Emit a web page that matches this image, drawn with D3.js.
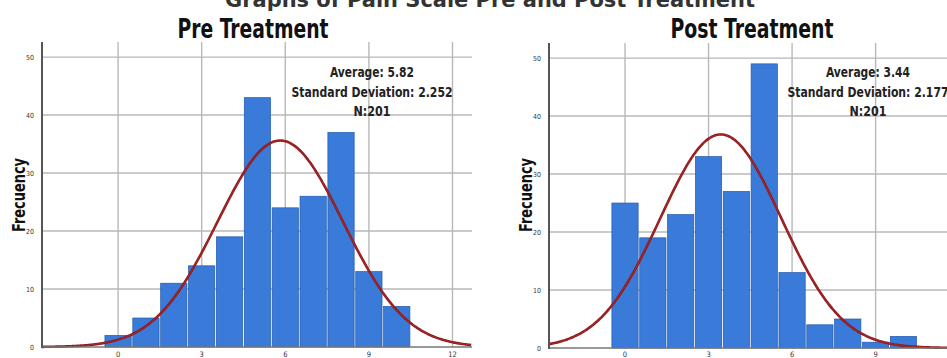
<!DOCTYPE html>
<html>
<head>
<meta charset="utf-8">
<script src="https://cdn.jsdelivr.net/npm/d3@7"></script>
<style>
  html, body { margin: 0; padding: 0; background: #fff; }
  svg { display: block; }
  text { font-family: 'Liberation Sans Narrow', 'Arial Narrow', 'DejaVu Sans Condensed', 'Liberation Sans', sans-serif; }
</style>
</head>
<body>
<svg id="chart" width="947" height="358"></svg>
<script>
// ---- Data ----
const binCenters = [0, 1, 2, 3, 4, 5, 6, 7, 8, 9, 10];
const preCounts  = [2, 5, 11, 14, 19, 43, 24, 26, 37, 13, 7];
const postCounts = [25, 19, 23, 33, 27, 49, 13, 4, 5, 1, 2];
const preStats  = { mean: 5.82, sd: 2.252, n: 201 };
const postStats = { mean: 3.44, sd: 2.177, n: 201 };
const xTickValues = [0, 3, 6, 9, 12];
const yTickValues = [0, 10, 20, 30, 40, 50];
const titles = ["Pre Treatment", "Post Treatment"];
const mainTitle = "Graphs of Pain Scale Pre and Post Treatment";

const svg = d3.select("#chart");

// top (cropped) main title
svg.append("text")
  .attr("x", 490).attr("y", 7)
  .attr("text-anchor", "middle")
  .attr("font-size", 22).attr("font-weight", "bold").attr("fill", "#333")
  .attr("textLength", 530).attr("lengthAdjust", "spacingAndGlyphs")
  .text(mainTitle);

function panel(cfg) {
  const x = d3.scaleLinear().domain(cfg.xDomain).range(cfg.xRange);
  const y = d3.scaleLinear().domain([0, 52.6]).range(cfg.yRange);
  const g = svg.append("g");
  const [x0, x1] = cfg.xRange;
  const [yb, yt] = cfg.yRange;

  // grid lines
  g.selectAll(".hg").data(yTickValues.filter(v => v > 0)).join("line")
    .attr("x1", x0).attr("x2", x1)
    .attr("y1", d => y(d)).attr("y2", d => y(d))
    .attr("stroke", "#b8b8b8").attr("stroke-width", 1.4);
  g.selectAll(".vg").data(xTickValues.filter(v => x(v) < x1)).join("line")
    .attr("x1", d => x(d)).attr("x2", d => x(d))
    .attr("y1", yt).attr("y2", yb)
    .attr("stroke", "#b8b8b8").attr("stroke-width", 1.4);

  // bars
  const bw = x(1) - x(0);
  g.selectAll(".bar").data(binCenters.map((c, i) => ({ c, v: cfg.counts[i] }))).join("rect")
    .attr("x", d => x(d.c - 0.5) + 0.8)
    .attr("width", bw - 1.6)
    .attr("y", d => y(d.v))
    .attr("height", d => y(0) - y(d.v))
    .attr("fill", "#3a7bd9")
    .attr("stroke", "#2159ad").attr("stroke-width", 0.7);

  // normal curve
  const st = cfg.stats;
  const pts = d3.range(cfg.xDomain[0], cfg.curveEnd + 0.001, 0.05).map(v => {
    const z = (v - st.mean) / st.sd;
    return [v, st.n / (st.sd * Math.sqrt(2 * Math.PI)) * Math.exp(-0.5 * z * z)];
  });
  const line = d3.line().x(d => x(d[0])).y(d => y(d[1])).curve(d3.curveBasis);
  g.append("path").datum(pts).attr("d", line)
    .attr("fill", "none").attr("stroke", "#8e1b1f").attr("stroke-width", 2.6);
  g.append("path").datum(pts).attr("d", line)
    .attr("fill", "none").attr("stroke", "#c0392b").attr("stroke-width", 0.8).attr("opacity", 0.6);

  // axes lines
  g.append("line").attr("x1", x0).attr("x2", x1).attr("y1", yb).attr("y2", yb)
    .attr("stroke", "#777").attr("stroke-width", 1.6);
  g.append("line").attr("x1", x0).attr("x2", x0).attr("y1", yt).attr("y2", yb + 1)
    .attr("stroke", "#555").attr("stroke-width", 2);

  // y tick labels
  g.selectAll(".yl").data(yTickValues).join("text")
    .attr("x", x0 - 8).attr("y", d => y(d) + 2.5)
    .attr("text-anchor", "end").attr("font-size", 7).attr("fill", "#333")
    .text(d => d);
  // x tick labels
  g.selectAll(".xl").data(xTickValues.filter(v => x(v) < x1)).join("text")
    .attr("x", d => x(d)).attr("y", 357)
    .attr("text-anchor", "middle").attr("font-size", 7.5).attr("fill", "#333")
    .text(d => d);

  // y axis title
  g.append("text")
    .attr("transform", `translate(${x0 - 17},195) rotate(-90)`)
    .attr("text-anchor", "middle").attr("font-size", 17).attr("font-weight", "bold").attr("fill", "#111")
    .attr("textLength", 74).attr("lengthAdjust", "spacingAndGlyphs")
    .text("Frecuency");

  // panel title
  g.append("text")
    .attr("x", cfg.titleX).attr("y", 38)
    .attr("text-anchor", "middle").attr("font-size", 27).attr("font-weight", "bold").attr("fill", "#111")
    .attr("textLength", cfg.titleW).attr("lengthAdjust", "spacingAndGlyphs")
    .text(cfg.title);

  // stats box
  const lines = [
    { t: `Average: ${st.mean.toFixed(2)}`, w: 84 },
    { t: `Standard Deviation: ${st.sd.toFixed(3)}`, w: 161 },
    { t: `N:${st.n}`, w: 37 }
  ];
  g.selectAll(".st").data(lines).join("text")
    .attr("x", cfg.statX).attr("y", (d, i) => 77 + i * 19.5)
    .attr("text-anchor", "middle").attr("font-size", 14).attr("font-weight", "bold").attr("fill", "#222")
    .attr("textLength", d => d.w).attr("lengthAdjust", "spacingAndGlyphs")
    .text(d => d.t);
}

panel({
  counts: preCounts, stats: preStats,
  xDomain: [-2.73, 12.7], xRange: [42, 472], yRange: [347, 42],
  curveEnd: 12.7, title: titles[0], titleX: 253, titleW: 151, statX: 372
});
panel({
  counts: postCounts, stats: postStats,
  xDomain: [-2.73, 11.6], xRange: [549, 948], yRange: [348, 43],
  curveEnd: 11.6, title: titles[1], titleX: 752, titleW: 163, statX: 868
});
</script>
</body>
</html>
